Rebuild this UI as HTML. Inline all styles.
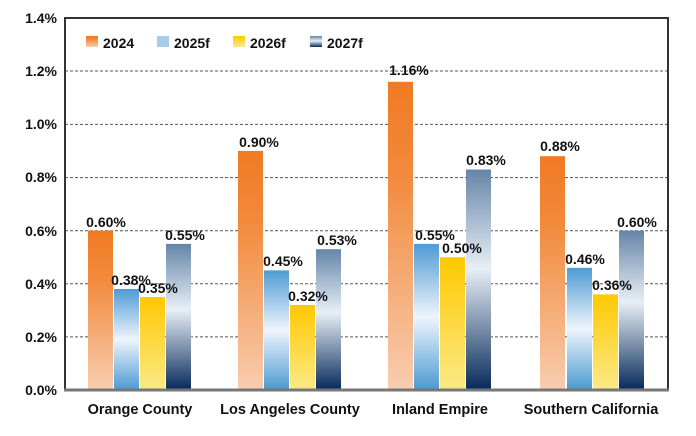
<!DOCTYPE html>
<html><head><style>body{margin:0;background:#fff}svg{display:block}text{font-family:"Liberation Sans",Arial,sans-serif;font-weight:bold;fill:#111}</style></head><body>
<svg width="696" height="436" xmlns="http://www.w3.org/2000/svg">
<defs>
<linearGradient id="o" x1="0" y1="0" x2="0" y2="1"><stop offset="0" stop-color="#f07a22"/><stop offset="0.3" stop-color="#f28a3c"/><stop offset="1" stop-color="#f8cdb0"/></linearGradient>
<linearGradient id="b" x1="0" y1="0" x2="0" y2="1"><stop offset="0" stop-color="#4f9bd4"/><stop offset="0.5" stop-color="#eef5fc"/><stop offset="1" stop-color="#4b9ad2"/></linearGradient>
<linearGradient id="y" x1="0" y1="0" x2="0" y2="1"><stop offset="0" stop-color="#ffc800"/><stop offset="1" stop-color="#faea88"/></linearGradient>
<linearGradient id="n" x1="0" y1="0" x2="0" y2="1"><stop offset="0" stop-color="#6585a8"/><stop offset="0.45" stop-color="#e8eff6"/><stop offset="1" stop-color="#06295a"/></linearGradient>
</defs>
<g stroke="#555" stroke-dasharray="3,2" stroke-width="1">
<line x1="65" x2="667" y1="71" y2="71"/><line x1="65" x2="667" y1="124.4" y2="124.4"/><line x1="65" x2="667" y1="177.6" y2="177.6"/><line x1="65" x2="667" y1="230.7" y2="230.7"/><line x1="65" x2="667" y1="283.8" y2="283.8"/><line x1="65" x2="667" y1="336.9" y2="336.9"/>
</g>
<g font-size="14" text-anchor="end">
<text x="57" y="23">1.4%</text><text x="57" y="76">1.2%</text><text x="57" y="129">1.0%</text><text x="57" y="182">0.8%</text><text x="57" y="236">0.6%</text><text x="57" y="289">0.4%</text><text x="57" y="342">0.2%</text><text x="57" y="395">0.0%</text>
</g>
<g>
<rect x="88" y="230.6" width="25" height="159.4" fill="url(#o)"/>
<rect x="114" y="289" width="25" height="101" fill="url(#b)"/>
<rect x="140" y="297" width="25" height="93" fill="url(#y)"/>
<rect x="166" y="243.9" width="25" height="146.1" fill="url(#n)"/>
<rect x="238" y="150.9" width="25" height="239.1" fill="url(#o)"/>
<rect x="264" y="270.4" width="25" height="119.6" fill="url(#b)"/>
<rect x="290" y="305" width="25" height="85" fill="url(#y)"/>
<rect x="316" y="249.2" width="25" height="140.8" fill="url(#n)"/>
<rect x="388" y="81.8" width="25" height="308.2" fill="url(#o)"/>
<rect x="414" y="243.9" width="25" height="146.1" fill="url(#b)"/>
<rect x="440" y="257.2" width="25" height="132.8" fill="url(#y)"/>
<rect x="466" y="169.5" width="25" height="220.5" fill="url(#n)"/>
<rect x="540" y="156.2" width="25" height="233.8" fill="url(#o)"/>
<rect x="567" y="267.8" width="25" height="122.2" fill="url(#b)"/>
<rect x="593" y="294.4" width="25" height="95.6" fill="url(#y)"/>
<rect x="619" y="230.6" width="25" height="159.4" fill="url(#n)"/>
</g>
<g font-size="14" text-anchor="middle">
<text x="106" y="227">0.60%</text>
<text x="131" y="285">0.38%</text>
<text x="158" y="293">0.35%</text>
<text x="185" y="240">0.55%</text>
<text x="259" y="147">0.90%</text>
<text x="283" y="266">0.45%</text>
<text x="308" y="301">0.32%</text>
<text x="337" y="245">0.53%</text>
<text x="409" y="75">1.16%</text>
<text x="435" y="240">0.55%</text>
<text x="462" y="253">0.50%</text>
<text x="486" y="165">0.83%</text>
<text x="560" y="151">0.88%</text>
<text x="585" y="264">0.46%</text>
<text x="612" y="290">0.36%</text>
<text x="637" y="227">0.60%</text>
</g>
<rect x="65" y="18" width="603" height="372" fill="none" stroke="#333" stroke-width="2"/>
<line x1="64" x2="669" y1="390" y2="390" stroke="#777" stroke-width="3"/>
<g font-size="14">
<rect x="86" y="36" width="12" height="11" fill="url(#o)"/><text x="103" y="48">2024</text>
<rect x="157" y="36" width="12" height="11" fill="#a8cdec"/><text x="174" y="48">2025f</text>
<rect x="233" y="36" width="12" height="11" fill="url(#y)"/><text x="250" y="48">2026f</text>
<rect x="310" y="36" width="12" height="11" fill="url(#n)"/><text x="327" y="48">2027f</text>
</g>
<g font-size="14.5" text-anchor="middle">
<text x="140" y="414">Orange County</text><text x="290" y="414">Los Angeles County</text><text x="440" y="414">Inland Empire</text><text x="591" y="414">Southern California</text>
</g>
</svg>
</body></html>
